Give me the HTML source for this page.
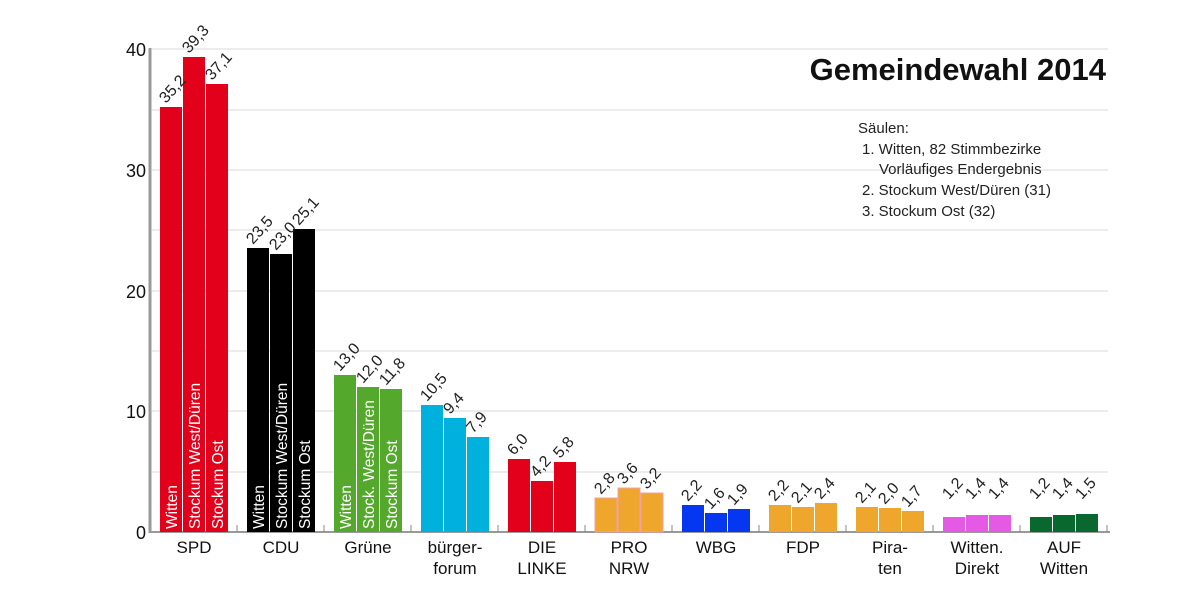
<!DOCTYPE html>
<html><head><meta charset="utf-8"><style>
html,body{margin:0;padding:0;background:#fff;}
svg{display:block;font-family:"Liberation Sans",sans-serif;}
.v{font-size:16px;fill:#222;}
.c{font-size:17px;fill:#111;text-anchor:middle;}
.w{font-size:15.5px;fill:#fff;}
.g{stroke:#ececec;stroke-width:2;}
</style></head><body>
<svg width="1200" height="600" viewBox="0 0 1200 600">
<g class="g">
<line x1="152" y1="49" x2="1108" y2="49"/>
<line x1="152" y1="110" x2="1108" y2="110"/>
<line x1="152" y1="170" x2="1108" y2="170"/>
<line x1="152" y1="230" x2="1108" y2="230"/>
<line x1="152" y1="291" x2="1108" y2="291"/>
<line x1="152" y1="351" x2="1108" y2="351"/>
<line x1="152" y1="411" x2="1108" y2="411"/>
<line x1="152" y1="472" x2="1108" y2="472"/>
</g>
<line x1="150" y1="48" x2="150" y2="533" stroke="#999" stroke-width="3"/>
<line x1="150" y1="532" x2="1110" y2="532" stroke="#999" stroke-width="2"/>
<g stroke="#888" stroke-width="1">
<line x1="237" y1="525" x2="237" y2="532"/><line x1="324" y1="525" x2="324" y2="532"/><line x1="411" y1="525" x2="411" y2="532"/><line x1="498" y1="525" x2="498" y2="532"/><line x1="585" y1="525" x2="585" y2="532"/><line x1="672" y1="525" x2="672" y2="532"/><line x1="759" y1="525" x2="759" y2="532"/><line x1="846" y1="525" x2="846" y2="532"/><line x1="933" y1="525" x2="933" y2="532"/><line x1="1020" y1="525" x2="1020" y2="532"/><line x1="1107" y1="525" x2="1107" y2="532"/>
</g>
<g font-size="18" fill="#111" text-anchor="end">
<text x="146" y="56">40</text><text x="146" y="177">30</text><text x="146" y="298">20</text><text x="146" y="418">10</text><text x="146" y="539">0</text>
</g>
<text x="1106" y="80" font-size="31" font-weight="bold" fill="#111" text-anchor="end">Gemeindewahl 2014</text>
<g font-size="15" fill="#222">
<text x="858" y="133">Säulen:</text>
<text x="862" y="154">1. Witten, 82 Stimmbezirke</text>
<text x="879" y="174">Vorläufiges Endergebnis</text>
<text x="862" y="195">2. Stockum West/Düren (31)</text>
<text x="862" y="216">3. Stockum Ost (32)</text>
</g>
<g>
<rect x="160" y="107" width="22" height="425" fill="#e2001a"/><rect x="183" y="57" width="22" height="475" fill="#e2001a"/><rect x="206" y="84" width="22" height="448" fill="#e2001a"/>
<rect x="247" y="248" width="22" height="284" fill="#000"/><rect x="270" y="254" width="22" height="278" fill="#000"/><rect x="293" y="229" width="22" height="303" fill="#000"/>
<rect x="334" y="375" width="22" height="157" fill="#54a82c"/><rect x="357" y="387" width="22" height="145" fill="#54a82c"/><rect x="380" y="389" width="22" height="143" fill="#54a82c"/>
<rect x="421" y="405" width="22" height="127" fill="#00b1dd"/><rect x="444" y="418" width="22" height="114" fill="#00b1dd"/><rect x="467" y="437" width="22" height="95" fill="#00b1dd"/>
<rect x="508" y="459" width="22" height="73" fill="#e2001a"/><rect x="531" y="481" width="22" height="51" fill="#e2001a"/><rect x="554" y="462" width="22" height="70" fill="#e2001a"/>
<rect x="595" y="498" width="22" height="34" fill="#eea72c" stroke="#f3a0a8"/><rect x="618" y="488" width="22" height="44" fill="#eea72c" stroke="#f3a0a8"/><rect x="641" y="493" width="22" height="39" fill="#eea72c" stroke="#f3a0a8"/>
<rect x="682" y="505" width="22" height="27" fill="#0537f0"/><rect x="705" y="513" width="22" height="19" fill="#0537f0"/><rect x="728" y="509" width="22" height="23" fill="#0537f0"/>
<rect x="769" y="505" width="22" height="27" fill="#eea72c"/><rect x="792" y="507" width="22" height="25" fill="#eea72c"/><rect x="815" y="503" width="22" height="29" fill="#eea72c"/>
<rect x="856" y="507" width="22" height="25" fill="#eea72c"/><rect x="879" y="508" width="22" height="24" fill="#eea72c"/><rect x="902" y="511" width="22" height="21" fill="#eea72c"/>
<rect x="943" y="517" width="22" height="15" fill="#e45ae4"/><rect x="966" y="515" width="22" height="17" fill="#e45ae4"/><rect x="989" y="515" width="22" height="17" fill="#e45ae4"/>
<rect x="1030" y="517" width="22" height="15" fill="#08682e"/><rect x="1053" y="515" width="22" height="17" fill="#08682e"/><rect x="1076" y="514" width="22" height="18" fill="#08682e"/>
</g>
<g class="w">
<text transform="translate(177,529) rotate(-90)">Witten</text>
<text transform="translate(200,529) rotate(-90)">Stockum West/Düren</text>
<text transform="translate(223,529) rotate(-90)">Stockum Ost</text>
<text transform="translate(264,529) rotate(-90)">Witten</text>
<text transform="translate(287,529) rotate(-90)">Stockum West/Düren</text>
<text transform="translate(310,529) rotate(-90)">Stockum Ost</text>
<text transform="translate(351,529) rotate(-90)">Witten</text>
<text transform="translate(374,529) rotate(-90)">Stock. West/Düren</text>
<text transform="translate(397,529) rotate(-90)">Stockum Ost</text>
</g>
<g class="v">
<text transform="translate(166,104) rotate(-48)">35,2</text><text transform="translate(189,54) rotate(-48)">39,3</text><text transform="translate(212,81) rotate(-48)">37,1</text>
<text transform="translate(253,245) rotate(-48)">23,5</text><text transform="translate(276,251) rotate(-48)">23,0</text><text transform="translate(299,226) rotate(-48)">25,1</text>
<text transform="translate(340,372) rotate(-48)">13,0</text><text transform="translate(363,384) rotate(-48)">12,0</text><text transform="translate(386,386) rotate(-48)">11,8</text>
<text transform="translate(427,402) rotate(-48)">10,5</text><text transform="translate(450,415) rotate(-48)">9,4</text><text transform="translate(473,434) rotate(-48)">7,9</text>
<text transform="translate(514,456) rotate(-48)">6,0</text><text transform="translate(537,478) rotate(-48)">4,2</text><text transform="translate(560,459) rotate(-48)">5,8</text>
<text transform="translate(601,495) rotate(-48)">2,8</text><text transform="translate(624,485) rotate(-48)">3,6</text><text transform="translate(647,490) rotate(-48)">3,2</text>
<text transform="translate(688,502) rotate(-48)">2,2</text><text transform="translate(711,510) rotate(-48)">1,6</text><text transform="translate(734,506) rotate(-48)">1,9</text>
<text transform="translate(775,502) rotate(-48)">2,2</text><text transform="translate(798,504) rotate(-48)">2,1</text><text transform="translate(821,500) rotate(-48)">2,4</text>
<text transform="translate(862,504) rotate(-48)">2,1</text><text transform="translate(885,505) rotate(-48)">2,0</text><text transform="translate(908,508) rotate(-48)">1,7</text>
<text transform="translate(949,500) rotate(-48)">1,2</text><text transform="translate(972,500) rotate(-48)">1,4</text><text transform="translate(995,500) rotate(-48)">1,4</text>
<text transform="translate(1036,500) rotate(-48)">1,2</text><text transform="translate(1059,500) rotate(-48)">1,4</text><text transform="translate(1082,500) rotate(-48)">1,5</text>
</g>
<g class="c">
<text x="194" y="553">SPD</text>
<text x="281" y="553">CDU</text>
<text x="368" y="553">Grüne</text>
<text x="455" y="553">bürger-</text><text x="455" y="574">forum</text>
<text x="542" y="553">DIE</text><text x="542" y="574">LINKE</text>
<text x="629" y="553">PRO</text><text x="629" y="574">NRW</text>
<text x="716" y="553">WBG</text>
<text x="803" y="553">FDP</text>
<text x="890" y="553">Pira-</text><text x="890" y="574">ten</text>
<text x="977" y="553">Witten.</text><text x="977" y="574">Direkt</text>
<text x="1064" y="553">AUF</text><text x="1064" y="574">Witten</text>
</g>
</svg>
</body></html>
